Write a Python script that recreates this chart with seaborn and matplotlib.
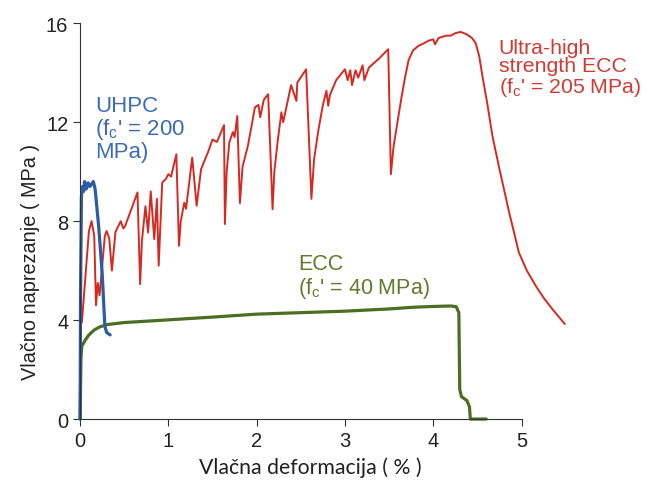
import matplotlib
matplotlib.use("Agg")
import matplotlib.pyplot as plt
import seaborn as sns

# values (strain in %, stress in MPa)
uhecc_strain = [0.02, 0.10, 0.13, 0.16, 0.18, 0.20, 0.22, 0.25, 0.28, 0.30, 0.33, 0.36, 0.40, 0.46,
                0.49, 0.51, 0.65, 0.68, 0.70, 0.74, 0.77, 0.80, 0.84, 0.87, 0.89, 0.93, 0.97, 1.00,
                1.03, 1.09, 1.12, 1.14, 1.18, 1.20, 1.27, 1.32, 1.37, 1.45, 1.50, 1.55, 1.63, 1.64,
                1.66, 1.69, 1.73, 1.75, 1.78, 1.81, 1.84, 1.90, 1.95, 1.98, 2.02, 2.04, 2.08, 2.13,
                2.18, 2.20, 2.24, 2.28, 2.30, 2.39, 2.45, 2.46, 2.56, 2.62, 2.65, 2.70, 2.75, 2.79,
                2.81, 2.83, 2.90, 3.00, 3.03, 3.06, 3.08, 3.12, 3.15, 3.20, 3.22, 3.27, 3.33, 3.38,
                3.49, 3.52, 3.55, 3.59, 3.64, 3.68, 3.72, 3.77, 3.83, 3.90, 3.95, 4.00, 4.02, 4.06,
                4.10, 4.15, 4.20, 4.25, 4.31, 4.38, 4.44, 4.48, 4.52, 4.56, 4.61, 4.67, 4.75, 4.86,
                4.97, 5.06, 5.16, 5.25, 5.35, 5.49]
uhecc_stress = [3.9, 7.6, 8.0, 7.4, 4.6, 5.5, 5.0, 6.2, 7.4, 7.6, 7.3, 6.0, 7.55, 8.0,
                7.7, 7.8, 9.16, 5.45, 7.2, 8.6, 7.54, 9.2, 7.27, 8.9, 6.2, 9.56, 9.7, 9.9,
                9.8, 10.7, 7.0, 8.0, 8.75, 8.5, 10.57, 8.62, 10.1, 10.8, 11.3, 11.2, 11.88, 7.88,
                10.0, 11.18, 11.6, 11.4, 12.25, 8.73, 10.2, 11.04, 12.0, 12.6, 12.7, 12.2, 12.9, 13.13,
                8.48, 10.0, 11.3, 12.4, 12.0, 13.5, 12.86, 13.6, 14.14, 8.9, 10.5, 11.7, 12.7, 13.27,
                12.66, 13.1, 13.7, 14.14, 13.7, 14.1, 13.5, 14.1, 13.8, 14.3, 13.7, 14.2, 14.4, 14.55,
                14.95, 9.9, 11.0, 11.9, 13.0, 13.8, 14.5, 14.9, 15.08, 15.2, 15.3, 15.35, 15.15, 15.4,
                15.45, 15.5, 15.5, 15.6, 15.65, 15.55, 15.4, 15.2, 14.68, 13.8, 12.8, 11.45, 10.1, 8.35,
                6.73, 6.0, 5.39, 4.9, 4.44, 3.84]

uhpc_strain = [0.0, 0.005, 0.015, 0.03, 0.04, 0.05, 0.07, 0.09, 0.11, 0.15, 0.17, 0.21, 0.25,
               0.28, 0.30, 0.34]
uhpc_stress = [0.0, 5.0, 9.0, 9.4, 9.2, 9.6, 9.3, 9.55, 9.4, 9.6, 9.3, 7.8, 5.9,
               3.77, 3.5, 3.4]

ecc_strain = [0.0, 0.01, 0.02, 0.06, 0.10, 0.16, 0.22, 0.31, 0.50, 0.96, 1.50, 2.00, 2.50,
              3.00, 3.50, 3.78, 4.00, 4.20, 4.26, 4.29, 4.30, 4.32, 4.38, 4.41, 4.42, 4.60]
ecc_stress = [0.0, 2.5, 2.95, 3.2, 3.4, 3.6, 3.72, 3.82, 3.9, 4.0, 4.12, 4.24, 4.3,
              4.36, 4.45, 4.52, 4.55, 4.57, 4.54, 4.3, 1.2, 0.9, 0.75, 0.5, 0.0, 0.0]

sns.set_style("ticks")
arial = ["Liberation Sans", "DejaVu Sans"]
plt.rcParams["font.family"] = arial
plt.rcParams["mathtext.fontset"] = "custom"
plt.rcParams["mathtext.rm"] = "Liberation Sans"

red = "#d42a22"
blue = "#2d5ca6"
green = "#4c6e22"

fig = plt.figure(figsize=(6.46, 4.85), dpi=100)
ax = fig.add_axes([0.124, 0.134, 0.82, 0.816])

sns.lineplot(x=uhecc_strain, y=uhecc_stress, sort=False, estimator=None, color=red, lw=1.4, ax=ax)
sns.lineplot(x=ecc_strain, y=ecc_stress, sort=False, estimator=None, color=green, lw=2.3, ax=ax)
sns.lineplot(x=uhpc_strain, y=uhpc_stress, sort=False, estimator=None, color=blue, lw=2.3, ax=ax)
for line in ax.lines:
    line.set_clip_on(False)

ax.set_xlim(0, 6.0)
ax.set_ylim(0, 16)
ax.set_xticks([0, 1, 2, 3, 4, 5])
ax.set_yticks([0, 4, 8, 12, 16])
ax.spines["top"].set_visible(False)
ax.spines["right"].set_visible(False)
ax.spines["bottom"].set_bounds(0, 5)
ax.spines["left"].set_color("#333333")
ax.spines["bottom"].set_color("#333333")
ax.tick_params(labelsize=14.5, length=5, color="#333333", labelcolor="#222222")

ax.set_xlabel("Vlačna deformacija ( % )", fontsize=15.3, color="#222222", family=["Lato", "DejaVu Sans"])
ax.set_ylabel("Vlačno naprezanje ( MPa )", fontsize=14.3, color="#222222", family=arial)
ax.xaxis.set_label_coords(0.434, -0.095)
ax.yaxis.set_label_coords(-0.076, 0.40)

ax.text(0.17, 13.1, "UHPC\n(f$_\\mathregular{c}$' = 200\nMPa)", color="#3a6db5", fontsize=16,
        va="top", ha="left", linespacing=1.0, family=arial)
ax.text(4.74, 15.4, "Ultra-high\nstrength ECC\n(f$_\\mathregular{c}$' = 205 MPa)", color="#cf3b33",
        fontsize=15.3, va="top", ha="left", linespacing=0.96, family=arial)
ax.text(2.47, 6.7, "ECC\n(f$_\\mathregular{c}$' = 40 MPa)", color="#627a2c", fontsize=15.5,
        va="top", ha="left", linespacing=1.02, family=arial)

fig.savefig("out.png", dpi=100)
